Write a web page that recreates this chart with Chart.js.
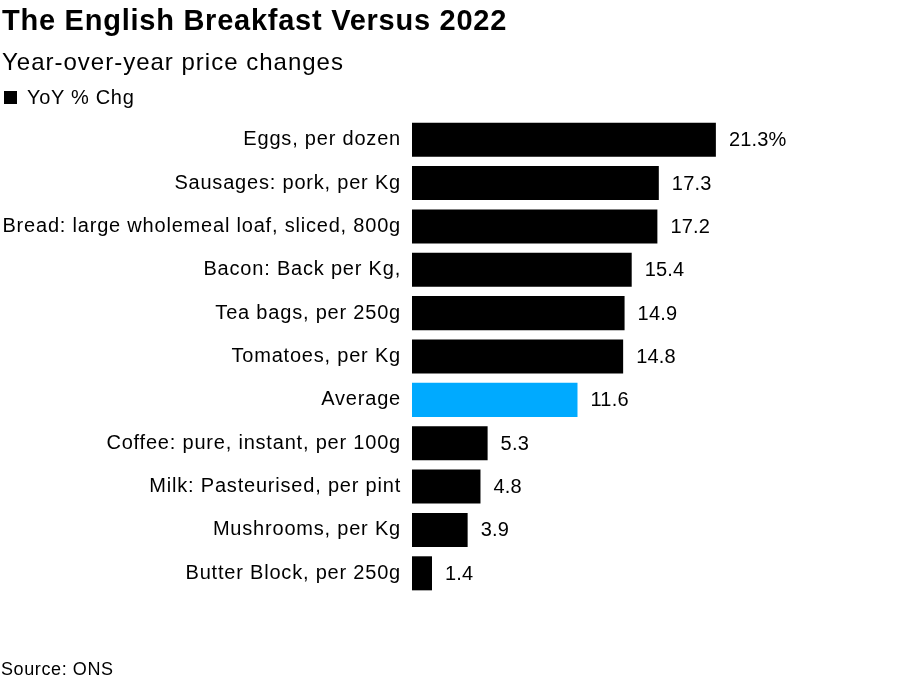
<!DOCTYPE html>
<html>
<head>
<meta charset="utf-8">
<script src="https://cdn.jsdelivr.net/npm/chart.js@4"></script>
<style>
  body { margin: 0; background: #fff; font-family: "Liberation Sans", Arial, sans-serif; color: #000; }
  #wrap { position: relative; width: 911px; height: 681px; }
  #chart { position: absolute; left: 0; top: 0; }
  .title { position: absolute; left: 2px; top: 6px; font-size: 29px; line-height: 29px; font-weight: bold; letter-spacing: 0.75px; white-space: nowrap; }
  .subtitle { position: absolute; left: 2px; top: 50px; font-size: 24px; line-height: 24px; letter-spacing: 1px; white-space: nowrap; }
  .legend-box { position: absolute; left: 4px; top: 91px; width: 13px; height: 13px; background: #000; }
  .legend { position: absolute; left: 27px; top: 87px; font-size: 20px; line-height: 20px; letter-spacing: 0.7px; white-space: nowrap; }
  .source { position: absolute; left: 1px; top: 660px; font-size: 18px; line-height: 18px; letter-spacing: 0.6px; white-space: nowrap; }
</style>
</head>
<body>
<div id="wrap">
  <canvas id="chart" width="911" height="681"></canvas>
  <div class="title">The English Breakfast Versus 2022</div>
  <div class="subtitle">Year-over-year price changes</div>
  <div class="legend-box"></div>
  <div class="legend">YoY % Chg</div>
  <div class="source">Source: ONS</div>
</div>
<script>
const categories = [
  "Eggs, per dozen",
  "Sausages: pork, per Kg",
  "Bread: large wholemeal loaf, sliced, 800g",
  "Bacon: Back per Kg,",
  "Tea bags, per 250g",
  "Tomatoes, per Kg",
  "Average",
  "Coffee: pure, instant, per 100g",
  "Milk: Pasteurised, per pint",
  "Mushrooms, per Kg",
  "Butter Block, per 250g"
];
const yoyChange = [21.3, 17.3, 17.2, 15.4, 14.9, 14.8, 11.6, 5.3, 4.8, 3.9, 1.4];
const valueLabels = ["21.3%", "17.3", "17.2", "15.4", "14.9", "14.8", "11.6", "5.3", "4.8", "3.9", "1.4"];

const barColors = categories.map(c => c === "Average" ? "#00aaff" : "#000000");

// wider tracking for the category labels, like the original typeface
const spacingPlugin = {
  id: "spacing",
  beforeDraw(chart) {
    chart.ctx.letterSpacing = "0.8px";
  }
};

const valueLabelPlugin = {
  id: "valueLabels",
  afterDatasetsDraw(chart) {
    const ctx = chart.ctx;
    const meta = chart.getDatasetMeta(0);
    ctx.save();
    ctx.letterSpacing = "0.2px";
    ctx.fillStyle = "#000";
    ctx.font = "20px 'Liberation Sans', Arial, sans-serif";
    ctx.textAlign = "left";
    ctx.textBaseline = "middle";
    meta.data.forEach((bar, i) => {
      ctx.fillText(valueLabels[i], bar.x + 13, bar.y + 1);
    });
    ctx.restore();
  }
};

new Chart(document.getElementById("chart"), {
  type: "bar",
  data: {
    labels: categories,
    datasets: [{
      label: "YoY % Chg",
      data: yoyChange,
      backgroundColor: barColors,
      borderWidth: 0,
      categoryPercentage: 1,
      barPercentage: 0.785
    }]
  },
  options: {
    indexAxis: "y",
    responsive: false,
    animation: false,
    layout: {
      padding: { left: 0, right: 71, top: 118, bottom: 86 }
    },
    scales: {
      x: {
        display: false,
        min: 0,
        max: 30
      },
      y: {
        grid: { display: false, drawTicks: false },
        border: { display: false },
        ticks: {
          color: "#000",
          padding: 11,
          font: { family: "'Liberation Sans', Arial, sans-serif", size: 20 }
        },
        afterFit(scale) {
          scale.width = 412;
        }
      }
    },
    plugins: {
      legend: { display: false },
      tooltip: { enabled: false }
    }
  },
  plugins: [spacingPlugin, valueLabelPlugin]
});
</script>
</body>
</html>
